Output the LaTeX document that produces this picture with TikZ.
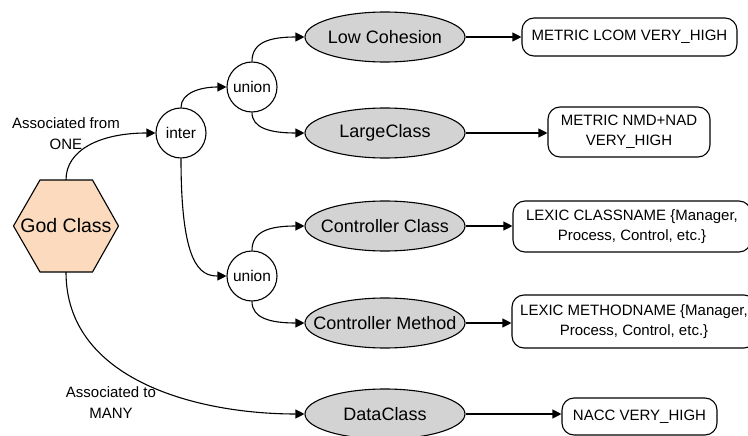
\documentclass[tikz,border=0pt]{standalone}
\usepackage{fontspec}
\setmainfont{Liberation Sans}
\usetikzlibrary{shapes.geometric,arrows.meta}
\definecolor{peach}{HTML}{FBDABE}
\definecolor{smellgray}{HTML}{D3D3D3}
\tikzset{
  conn/.style={line width=1.1pt,-{Triangle[length=9pt,width=9pt]}},
  hexnode/.style={rectangle,minimum width=105pt,minimum height=92pt,inner sep=0pt,font=\fontsize{19.5}{21}\selectfont},
  hexfill/.style={draw,line width=1.1pt,fill=peach},
  opnode/.style={circle,draw,line width=1.1pt,fill=white,minimum size=50pt,inner sep=0pt,font=\fontsize{15.5}{17}\selectfont},
  smell/.style={ellipse,draw,line width=1.1pt,fill=smellgray,minimum width=160pt,minimum height=50pt,inner sep=0pt,font=\fontsize{18}{20}\selectfont},
  rule/.style={rectangle,rounded corners=12pt,draw,line width=1.1pt,fill=white,inner sep=0pt,align=center,font=\fontsize{15}{20}\selectfont},
  lbl/.style={align=center,inner sep=0pt,font=\fontsize{15}{21}\selectfont}
}
\begin{document}
\begin{tikzpicture}[x=1pt,y=-1pt]
\clip (0,0) rectangle (748,436);
\fill[white] (0,0) rectangle (748,436);
% hexagon
\draw[hexfill] (13.5,226) -- (40,180) -- (92.5,180) -- (118.5,226) -- (92.5,272) -- (40,272) -- cycle;
\node[hexnode] (god) at (66,226) {God Class};
% nodes
\node[opnode] (inter) at (181,133) {inter};
\node[opnode] (u1) at (252,87) {union};
\node[opnode] (u2) at (252,276) {union};
\node[smell] (lc) at (385,37) {\makebox[0pt]{Low Cohesion}};
\node[smell] (lg) at (385,133) {\makebox[0pt]{LargeClass}};
\node[smell] (cc) at (385,226) {\makebox[0pt]{Controller Class}};
\node[smell] (cm) at (385,323) {\makebox[0pt]{Controller Method}};
\node[smell] (dc) at (385,414) {\makebox[0pt]{DataClass}};
\node[rule,minimum width=215pt,minimum height=38pt] (r1) at (629.5,37) {METRIC LCOM VERY\_HIGH};
\node[rule,minimum width=162pt,minimum height=50pt] (r2) at (629,132) {METRIC NMD+NAD\\VERY\_HIGH};
\node[rule,minimum width=238pt,minimum height=51pt] (r3) at (632,226.5) {LEXIC CLASSNAME \{Manager,\\Process, Control, etc.\}};
\node[rule,minimum width=244pt,minimum height=53pt] (r4) at (634,321.5) {LEXIC METHODNAME \{Manager,\\Process, Control, etc.\}};
\node[rule,minimum width=155pt,minimum height=37pt] (r5) at (639.5,416.5) {NACC VERY\_HIGH};
% labels
\node[lbl] (l1) at (66,134) {Associated from\\ONE};
\node[lbl] (l2) at (111,403) {Associated to\\MANY};
% connectors
\draw[conn] (god.north) .. controls (66,150) and (100,133) .. (inter.west);
\draw[conn] (god.south) .. controls (66,380) and (197,414) .. (dc.west);
\draw[conn] (inter.north) .. controls (181,93) and (200,87) .. (u1.west);
\draw[conn] (inter.south) .. controls (181,265) and (200,276) .. (u2.west);
\draw[conn] (u1.north) .. controls (252,42) and (270,37) .. (lc.west);
\draw[conn] (u1.south) .. controls (252,128) and (270,133) .. (lg.west);
\draw[conn] (u2.north) .. controls (252,231) and (270,226) .. (cc.west);
\draw[conn] (u2.south) .. controls (252,318) and (270,323) .. (cm.west);
\draw[conn] (lc.east) -- (r1.west);
\draw[conn] (lg.east) -- (lg.east -| r2.west);
\draw[conn] (cc.east) -- (cc.east -| r3.west);
\draw[conn] (cm.east) -- (cm.east -| r4.west);
\draw[conn] (dc.east) -- (dc.east -| r5.west);
\end{tikzpicture}
\end{document}
